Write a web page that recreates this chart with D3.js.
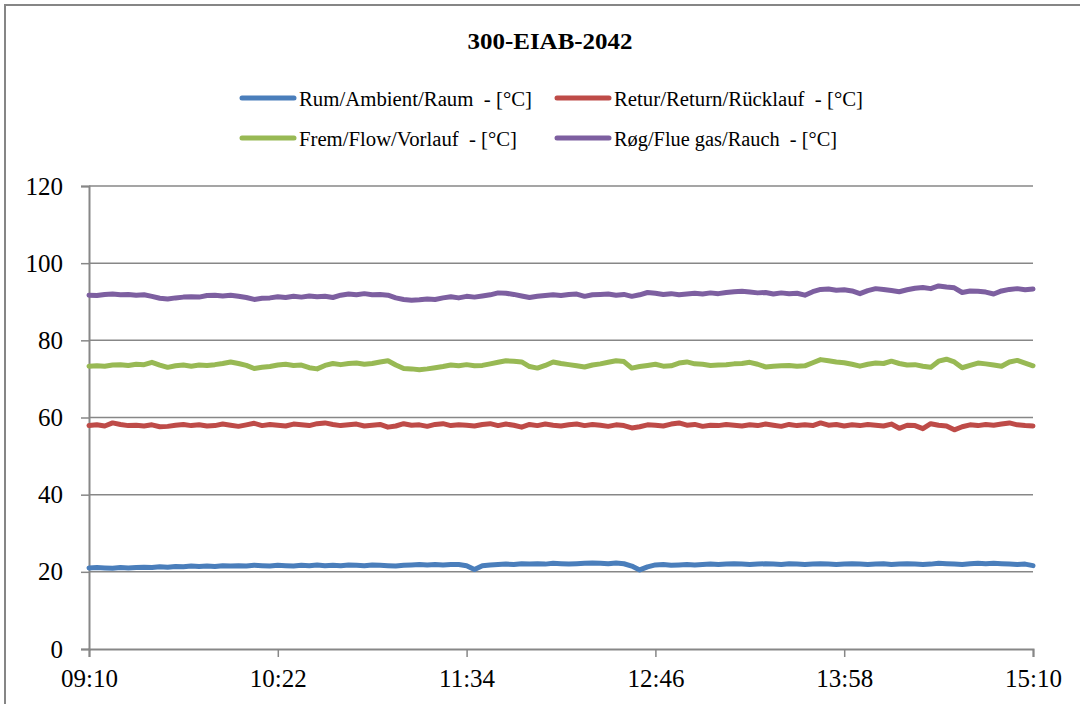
<!DOCTYPE html>
<html>
<head>
<meta charset="utf-8">
<script src="https://cdn.jsdelivr.net/npm/d3@7"></script>
<style>
  html, body { margin: 0; padding: 0; background: #fff; }
</style>
</head>
<body>
<div id="chart"></div>
<script>
const TITLE = "300-EIAB-2042";
const SERIF = "'Liberation Serif', 'DejaVu Serif', serif";

// minutes after 09:10, one sample every 3 minutes
const minutes = d3.range(0, 361, 3);
const tickMinutes = [0, 72, 144, 216, 288, 360];
const tickLabels = ["09:10", "10:22", "11:34", "12:46", "13:58", "15:10"];
const yTicks = [0, 20, 40, 60, 80, 100, 120];

const rum = [
  21.0, 21.1, 21.0, 20.9, 21.1, 21.0, 21.1, 21.2, 21.1, 21.3,
  21.2, 21.4, 21.3, 21.5, 21.4, 21.5, 21.4, 21.6, 21.5, 21.6,
  21.5, 21.7, 21.6, 21.5, 21.7, 21.6, 21.5, 21.7, 21.6, 21.8,
  21.6, 21.7, 21.6, 21.8, 21.7, 21.6, 21.8, 21.7, 21.6, 21.5,
  21.7, 21.8, 21.9, 21.8, 21.9, 21.8, 21.9, 21.9, 21.6, 20.6,
  21.6, 21.8, 21.9, 22.0, 21.9, 22.1, 22.0, 22.1, 22.0, 22.2,
  22.1, 22.0, 22.1, 22.2, 22.3, 22.2, 22.1, 22.3, 22.1, 21.5,
  20.5, 21.3, 21.8, 21.9, 21.7, 21.8, 21.9, 21.8, 21.9, 22.0,
  21.9, 22.0, 22.1, 22.0, 21.9, 22.0, 22.1, 22.0, 21.9, 22.1,
  22.0, 21.9, 22.0, 22.1, 22.0, 21.9, 22.0, 22.1, 22.0, 21.9,
  22.0, 22.1, 21.9, 22.0, 22.1, 22.0, 21.9, 22.0, 22.2, 22.1,
  22.0, 21.9, 22.1, 22.2, 22.1, 22.2, 22.1, 22.0, 21.9, 22.0,
  21.6
];

const retur = [
  57.9, 58.1, 57.8, 58.6, 58.2, 57.9, 58.0, 57.8, 58.1, 57.6,
  57.7, 58.0, 58.2, 57.9, 58.1, 57.8, 57.9, 58.3, 58.0, 57.7,
  58.1, 58.5, 57.9, 58.2, 58.0, 57.8, 58.3, 58.1, 57.9, 58.4,
  58.6, 58.2, 57.9, 58.1, 58.3, 57.8, 58.0, 58.2, 57.5, 57.8,
  58.4, 58.0, 58.1, 57.7, 58.2, 58.4, 57.9, 58.1, 58.0, 57.8,
  58.2, 58.4, 57.9, 58.3, 58.0, 57.5, 58.2, 57.9, 58.3, 58.0,
  57.8, 58.1, 58.3, 57.9, 58.2, 58.0, 57.7, 58.1, 57.9, 57.3,
  57.6, 58.1, 58.0, 57.8, 58.3, 58.6, 58.0, 58.2, 57.7, 58.0,
  57.9, 58.2, 58.0, 57.8, 58.1, 57.9, 58.3, 58.0, 57.7, 58.2,
  57.9, 58.1, 57.9, 58.6, 58.0, 58.2, 57.8, 58.1, 57.9, 58.2,
  58.0, 57.8, 58.3, 57.2, 58.0, 57.9, 57.1, 58.4, 58.0, 57.8,
  56.8, 57.6, 58.1, 57.9, 58.2, 58.0, 58.3, 58.6, 58.1, 57.9,
  57.8
];

const frem = [
  73.3, 73.4, 73.3, 73.6, 73.7, 73.5, 73.8, 73.7, 74.3, 73.6,
  73.0, 73.4, 73.6, 73.3, 73.6, 73.5, 73.7, 74.0, 74.4, 74.0,
  73.5, 72.7, 73.0, 73.2, 73.6, 73.8, 73.5, 73.6, 72.9, 72.6,
  73.5, 74.0, 73.7, 74.0, 74.1, 73.8, 74.0, 74.4, 74.7, 73.6,
  72.7, 72.6, 72.4, 72.6, 72.9, 73.2, 73.6, 73.4, 73.7, 73.4,
  73.5, 73.9, 74.3, 74.7, 74.6, 74.4, 73.2, 72.8, 73.5, 74.4,
  74.0, 73.7, 73.4, 73.1, 73.6, 73.9, 74.3, 74.7, 74.5, 72.8,
  73.2, 73.5, 73.8, 73.3, 73.4, 74.1, 74.4, 73.9, 73.8, 73.5,
  73.6, 73.7, 73.9, 74.0, 74.3, 73.8, 73.1, 73.3, 73.4, 73.5,
  73.3, 73.4, 74.2, 75.0, 74.7, 74.4, 74.2, 73.8, 73.3, 73.8,
  74.1, 74.0, 74.6, 74.0, 73.6, 73.7, 73.3, 73.0, 74.6, 75.1,
  74.4, 72.9, 73.5, 74.1, 73.9, 73.6, 73.3, 74.4, 74.8, 74.1,
  73.4
];

const roeg = [
  91.7, 91.6, 91.9, 92.0, 91.8, 91.9, 91.7, 91.8, 91.4, 90.9,
  90.7, 91.0, 91.2, 91.3, 91.2, 91.6, 91.7, 91.5, 91.7, 91.4,
  91.1, 90.6, 90.9, 91.0, 91.3, 91.1, 91.4, 91.2, 91.5, 91.3,
  91.4, 91.1, 91.7, 92.0, 91.8, 92.1, 91.8, 91.9, 91.7, 91.0,
  90.6, 90.4, 90.5, 90.7, 90.6, 91.0, 91.3, 91.0, 91.4, 91.2,
  91.5, 91.8, 92.3, 92.2, 91.9, 91.5, 91.1, 91.4, 91.6, 91.8,
  91.6, 91.9, 92.0, 91.4, 91.8, 91.9, 92.0, 91.7, 91.9, 91.4,
  91.8, 92.4, 92.2, 91.9, 92.1, 91.8, 92.0, 92.2, 92.0, 92.3,
  92.1, 92.4, 92.6, 92.7, 92.5, 92.3, 92.4, 92.0, 92.3, 92.1,
  92.2, 91.7, 92.6, 93.2, 93.3, 93.0, 93.1, 92.8, 92.1, 92.9,
  93.4, 93.2, 92.9, 92.6, 93.1, 93.5, 93.7, 93.4, 94.1, 93.8,
  93.6, 92.4, 92.8, 92.7, 92.5, 92.0, 92.8, 93.2, 93.4, 93.1,
  93.3
];

const seriesNames = [
  "Rum/Ambient/Raum  - [°C]",
  "Retur/Return/Rücklauf  - [°C]",
  "Frem/Flow/Vorlauf  - [°C]",
  "Røg/Flue gas/Rauch  - [°C]"
];
const seriesColors = ["#4a7ebb", "#be4b48", "#98b954", "#7d5fa0"];
const seriesValues = [rum, retur, frem, roeg];

const width = 1080;
const height = 704;
const margin = { top: 186, right: 47, bottom: 55, left: 89 };

const svg = d3.select("#chart")
  .append("svg")
  .attr("width", width)
  .attr("height", height)
  .style("display", "block");

// outer chart border
svg.append("rect")
  .attr("x", 5)
  .attr("y", 5)
  .attr("width", 1100)
  .attr("height", 720)
  .attr("fill", "none")
  .attr("stroke", "#868686")
  .attr("stroke-width", 2);

const x = d3.scaleLinear()
  .domain([0, 360])
  .range([margin.left, width - margin.right]);

const y = d3.scaleLinear()
  .domain([0, 120])
  .range([height - margin.bottom, margin.top]);

// horizontal gridlines
svg.append("g")
  .selectAll("line")
  .data(yTicks.filter(d => d > 0))
  .join("line")
  .attr("x1", x(0))
  .attr("x2", x(360))
  .attr("y1", d => y(d))
  .attr("y2", d => y(d))
  .attr("stroke", "#878787")
  .attr("stroke-width", 1.5);

// y axis
const yAxis = svg.append("g")
  .attr("transform", `translate(${x(0)},0)`)
  .call(d3.axisLeft(y).tickValues(yTicks).tickSize(8).tickPadding(18).tickFormat(d3.format("d")));
yAxis.select(".domain").attr("stroke", "#878787").attr("stroke-width", 2);
yAxis.selectAll(".tick line").attr("stroke", "#878787").attr("stroke-width", 1.5);
yAxis.selectAll(".tick text")
  .attr("fill", "#000")
  .style("font-family", SERIF)
  .style("font-size", "25px");

// x axis
const xAxis = svg.append("g")
  .attr("transform", `translate(0,${y(0)})`)
  .call(d3.axisBottom(x).tickValues(tickMinutes).tickSize(8).tickPadding(12)
    .tickFormat((d, i) => tickLabels[i]));
xAxis.select(".domain").attr("stroke", "#878787").attr("stroke-width", 2);
xAxis.selectAll(".tick line").attr("stroke", "#878787").attr("stroke-width", 1.5);
xAxis.selectAll(".tick text")
  .attr("fill", "#000")
  .style("font-family", SERIF)
  .style("font-size", "25px");

// series lines
const line = d3.line()
  .x((d, i) => x(minutes[i]))
  .y(d => y(d));

svg.append("g")
  .selectAll("path")
  .data(seriesValues)
  .join("path")
  .attr("d", line)
  .attr("fill", "none")
  .attr("stroke", (d, i) => seriesColors[i])
  .attr("stroke-width", 5)
  .attr("stroke-linejoin", "round")
  .attr("stroke-linecap", "round");

// title
svg.append("text")
  .attr("x", 550)
  .attr("y", 49)
  .attr("text-anchor", "middle")
  .style("font-family", SERIF)
  .style("font-size", "24px")
  .style("font-weight", "bold")
  .attr("textLength", 165)
  .attr("lengthAdjust", "spacingAndGlyphs")
  .text(TITLE);

// legend
const legendPos = [
  { sx: 242, ty: 106, tw: 233 },
  { sx: 557, ty: 106, tw: 249 },
  { sx: 242, ty: 146, tw: 218 },
  { sx: 557, ty: 146, tw: 223 }
];

const legend = svg.append("g")
  .selectAll("g")
  .data(seriesNames)
  .join("g");

legend.append("line")
  .attr("x1", (d, i) => legendPos[i].sx)
  .attr("x2", (d, i) => legendPos[i].sx + 52)
  .attr("y1", (d, i) => legendPos[i].ty - 8)
  .attr("y2", (d, i) => legendPos[i].ty - 8)
  .attr("stroke", (d, i) => seriesColors[i])
  .attr("stroke-width", 5)
  .attr("stroke-linecap", "round");

legend.append("text")
  .attr("x", (d, i) => legendPos[i].sx + 57)
  .attr("y", (d, i) => legendPos[i].ty)
  .style("font-family", SERIF)
  .style("font-size", "20px")
  .style("white-space", "pre")
  .attr("textLength", (d, i) => legendPos[i].tw)
  .attr("lengthAdjust", "spacingAndGlyphs")
  .text(d => d);
</script>
</body>
</html>
